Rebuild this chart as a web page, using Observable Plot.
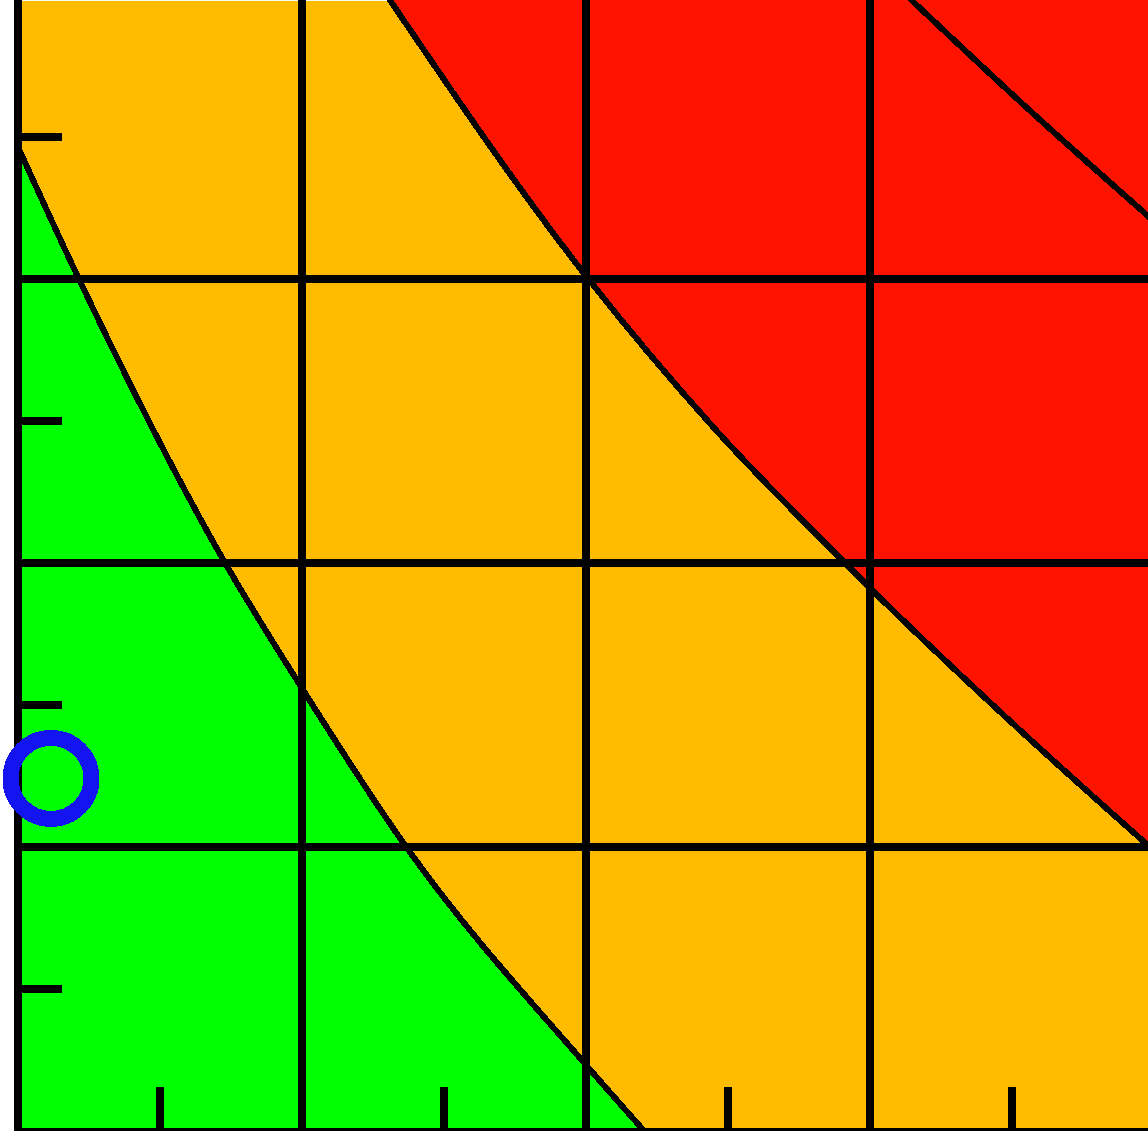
<!DOCTYPE html>
<html>
<head>
<meta charset="utf-8">
<script src="https://cdn.jsdelivr.net/npm/d3@7"></script>
<script src="https://cdn.jsdelivr.net/npm/@observablehq/plot@0.6"></script>
<style>
  html, body { margin: 0; padding: 0; overflow: hidden; background: white; }
  #chart svg { display: block; }
</style>
</head>
<body>
<div id="chart"></div>
<script>
// Boundary between green and orange zones
const greenEdgeX = [0, 0.217, 0.732, 1.0, 1.370, 2.0, 2.208];
const greenEdgeY = [3.47, 3.0, 2.0, 1.563, 1.0, 0.236, 0];

// Boundary between orange and red zones
const redEdgeX = [1.30, 2.0, 2.454, 2.915, 3.0, 3.5, 4.0];
const redEdgeY = [4.0, 3.014, 2.475, 2.0, 1.915, 1.44, 0.99];

// Extra contour inside the red zone
const innerEdgeX = [3.13, 3.567, 4.0];
const innerEdgeY = [4.0, 3.592, 3.206];

// Grid and tick positions
const gridValues = [1, 2, 3, 4];
const tickValues = [0.5, 1.5, 2.5, 3.5];

// Marker point
const markerX = [0.118];
const markerY = [1.243];

const GREEN = "#00ff00";
const ORANGE = "#ffbb00";
const RED = "#ff1200";
const BLUE = "#1414f0";

const toRows = (xs, ys) => xs.map((x, i) => ({x, y: ys[i]}));
const greenEdge = toRows(greenEdgeX, greenEdgeY);
const redEdge = toRows(redEdgeX, redEdgeY);
const innerEdge = toRows(innerEdgeX, innerEdgeY);
const marker = toRows(markerX, markerY);
const curve = "monotone-x";

const chart = Plot.plot({
  width: 1148,
  height: 1131,
  marginLeft: 17,
  marginRight: 0,
  marginTop: 0,
  marginBottom: 0,
  x: {domain: [0, 3.982], axis: null},
  y: {domain: [0, 3.982], axis: null},
  style: {background: "white", shapeRendering: "crispEdges"},
  marks: [
    Plot.frame({fill: ORANGE, stroke: "none"}),
    Plot.areaY(greenEdge, {x: "x", y: "y", fill: GREEN, curve}),
    Plot.areaY(redEdge, {x: "x", y1: "y", y2: 4.3, fill: RED, curve}),
    Plot.ruleX(gridValues, {stroke: "black", strokeWidth: 8}),
    Plot.ruleY(gridValues, {stroke: "black", strokeWidth: 8}),
    Plot.line(greenEdge, {x: "x", y: "y", stroke: "black", strokeWidth: 6, curve}),
    Plot.line(redEdge, {x: "x", y: "y", stroke: "black", strokeWidth: 6, curve}),
    Plot.line(innerEdge, {x: "x", y: "y", stroke: "black", strokeWidth: 6, curve}),
    Plot.ruleX([0], {stroke: "black", strokeWidth: 8}),
    Plot.ruleY([0], {stroke: "black", strokeWidth: 8}),
    Plot.ruleX(tickValues, {y1: 0, y2: 0.155, stroke: "black", strokeWidth: 8}),
    Plot.ruleY(tickValues, {x1: 0, x2: 0.158, stroke: "black", strokeWidth: 8}),
    Plot.dot(marker, {x: "x", y: "y", r: 40.5, stroke: BLUE, strokeWidth: 16, fill: "none"})
  ]
});
document.getElementById("chart").appendChild(chart);
</script>
</body>
</html>
